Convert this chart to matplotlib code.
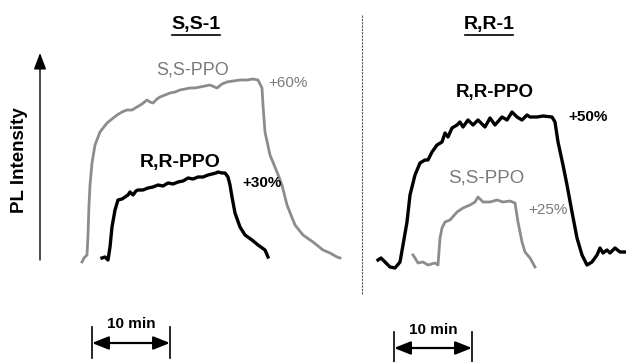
import matplotlib
matplotlib.use("Agg")
import matplotlib.pyplot as plt
from matplotlib.patches import FancyArrowPatch

# ---- data (time in chart units, PL intensity above baseline, a.u.) ----
BASE = 270  # baseline reference

ss1_sspp_t = [82, 84, 87, 88, 89, 90, 92, 95, 100, 107, 112, 117, 122, 127, 132, 137, 142, 147, 150,
              153, 157, 160, 165, 170, 175, 180, 185, 190, 195, 200, 205, 210, 217, 222, 227, 233,
              240, 247, 253, 258, 262, 263, 265, 270, 277, 282, 287, 295, 303, 313, 323, 330, 337, 340]
ss1_sspp_i = [8, 12, 15, 35, 65, 85, 107, 125, 138, 147, 151, 155, 158, 160, 160, 163, 166, 170, 168,
              167, 171, 173, 175, 177, 178, 180, 181, 182, 182, 183, 184, 185, 182, 186, 188, 189,
              190, 190, 191, 190, 182, 165, 138, 115, 98, 85, 65, 45, 35, 28, 20, 17, 13, 12]

ss1_rrpp_t = [102, 105, 108, 110, 112, 115, 118, 122, 125, 128, 130, 133, 136, 138, 143, 148, 153, 158,
              163, 168, 173, 178, 183, 188, 193, 198, 203, 208, 212, 216, 218, 222, 225, 228, 230, 232,
              235, 240, 245, 252, 258, 265, 268]
ss1_rrpp_i = [12, 13, 10, 23, 43, 60, 70, 71, 73, 75, 78, 75, 79, 80, 80, 82, 83, 85, 84, 87, 86, 88,
              89, 92, 91, 93, 93, 95, 96, 97, 98, 97, 97, 93, 85, 73, 57, 43, 35, 30, 25, 20, 13]

rr1_rrpp_t = [378, 381, 385, 390, 395, 400, 403, 407, 410, 415, 420, 425, 428, 432, 437, 442, 445, 448,
              452, 457, 460, 463, 468, 473, 478, 485, 490, 495, 502, 507, 512, 517, 522, 527, 530, 537,
              543, 552, 555, 558, 563, 567, 572, 577, 582, 587, 592, 597, 600, 603, 607, 610, 615, 620, 625]
rr1_rrpp_i = [10, 12, 8, 3, 2, 8, 25, 48, 75, 95, 107, 110, 110, 118, 125, 128, 137, 133, 142, 145, 148,
              143, 150, 145, 150, 143, 152, 145, 153, 150, 158, 153, 150, 155, 153, 153, 154, 153, 148,
              128, 105, 85, 58, 32, 15, 5, 8, 15, 22, 17, 20, 17, 22, 18, 18]

rr1_sspp_t = [413, 415, 418, 423, 428, 435, 438, 440, 442, 445, 450, 457, 463, 470, 475, 478, 483, 490,
              497, 503, 510, 515, 518, 522, 525, 530, 535]
rr1_sspp_i = [15, 12, 7, 8, 5, 7, 5, 32, 42, 48, 50, 58, 62, 65, 68, 73, 68, 68, 70, 68, 69, 67, 48,
              28, 18, 12, 3]

panel_titles = ["S,S-1", "R,R-1"]
trace_labels = ["S,S-PPO", "R,R-PPO", "R,R-PPO", "S,S-PPO"]
changes = ["+60%", "+30%", "+50%", "+25%"]
scale_label = "10 min"
scale_len = 78  # 10 min in chart time units

BLACK = "#000000"
GRAY = "#8c8c8c"
TGRAY = "#7a7a7a"
FONT = "Liberation Sans"

W, H = 626, 362
fig = plt.figure(figsize=(W / 100, H / 100), dpi=100)
ax = fig.add_axes([0, 0, 1, 1])
ax.set_xlim(0, W)
ax.set_ylim(BASE - H, BASE)
ax.axis("off")


def Y(py):
    return BASE - py


# traces
ax.plot(ss1_sspp_t, ss1_sspp_i, color=GRAY, lw=2.0, solid_joinstyle="round")
ax.plot(ss1_rrpp_t, ss1_rrpp_i, color=BLACK, lw=2.4, solid_joinstyle="round")
ax.plot(rr1_rrpp_t, rr1_rrpp_i, color=BLACK, lw=2.4, solid_joinstyle="round")
ax.plot(rr1_sspp_t, rr1_sspp_i, color=GRAY, lw=2.0, solid_joinstyle="round")

# divider
ax.plot([362, 362], [Y(15), Y(294)], color="#555555", lw=0.8, dashes=(2, 1))

# y-axis arrow
ax.add_patch(FancyArrowPatch((40, Y(260)), (40, Y(53)),
                             arrowstyle="-|>,head_length=1.0,head_width=0.38",
                             mutation_scale=10, color=BLACK, lw=1.0, shrinkA=0, shrinkB=0))
ax.text(20, Y(160), "PL Intensity", rotation=90, ha="center", va="center",
        fontsize=13.5, fontweight="bold", family=FONT)

# titles with underline
fig.canvas.draw()
renderer = fig.canvas.get_renderer()
for (tx, ty), title in zip([(196, 25), (489, 25)], panel_titles):
    t = ax.text(tx, Y(ty), title, ha="center", va="center", fontsize=14,
                fontweight="bold", family=FONT)
    bb = t.get_window_extent(renderer=renderer)
    inv = ax.transData.inverted()
    (x0, y0), (x1, y1) = inv.transform([(bb.x0, bb.y0), (bb.x1, bb.y1)])
    ax.plot([x0 + 1, x1 - 1], [y0 - 1.0, y0 - 1.0], color=BLACK, lw=1.2)

# trace labels
ax.text(193, Y(70), trace_labels[0], ha="center", va="center", fontsize=13, color=TGRAY, family=FONT)
ax.text(288, Y(83), changes[0], ha="center", va="center", fontsize=11, color=TGRAY, family=FONT)
ax.text(180, Y(162), trace_labels[1], ha="center", va="center", fontsize=14, fontweight="bold", family=FONT)
ax.text(262, Y(183), changes[1], ha="center", va="center", fontsize=11, fontweight="bold", family=FONT)
ax.text(495, Y(92), trace_labels[2], ha="center", va="center", fontsize=13.5, fontweight="bold", family=FONT)
ax.text(588, Y(117), changes[2], ha="center", va="center", fontsize=11, fontweight="bold", family=FONT)
ax.text(486, Y(178), trace_labels[3], ha="center", va="center", fontsize=13.5, color=TGRAY, family=FONT)
ax.text(548, Y(210), changes[3], ha="center", va="center", fontsize=11, color=TGRAY, family=FONT)


# scale bars
def scale_bar(x0, ytop, ybot, yarrow, ytext):
    x1 = x0 + scale_len
    for x in (x0, x1):
        ax.plot([x, x], [Y(ytop), Y(ybot)], color=BLACK, lw=1.2)
    ax.add_patch(FancyArrowPatch((x0, Y(yarrow)), (x1, Y(yarrow)),
                                 arrowstyle="<|-|>,head_length=1.0,head_width=0.4",
                                 mutation_scale=10, color=BLACK, lw=1.6, shrinkA=0, shrinkB=0))
    ax.text((x0 + x1) / 2, Y(ytext), scale_label, ha="center", va="center",
            fontsize=11, fontweight="bold", family=FONT)


scale_bar(92, 327, 358, 343, 324)
scale_bar(394, 332, 362, 348, 330)

fig.savefig("out.png", dpi=100)
